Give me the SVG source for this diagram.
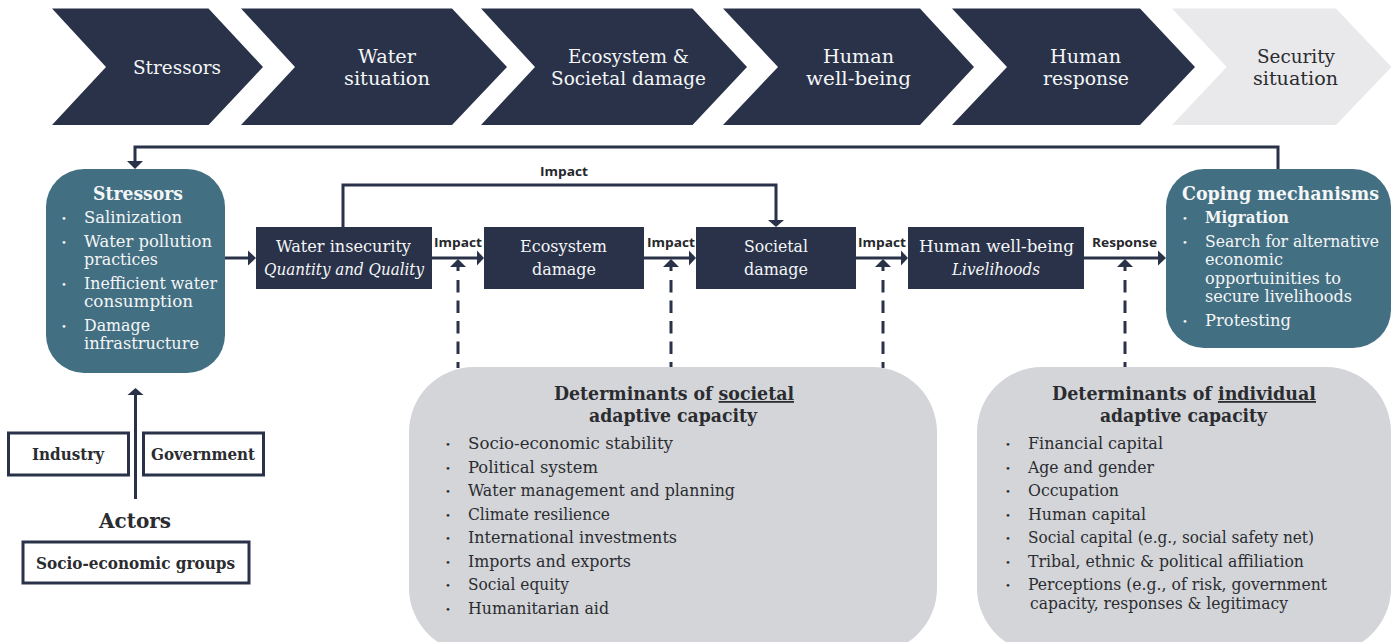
<svg xmlns="http://www.w3.org/2000/svg" width="1397" height="642" viewBox="0 0 1397 642">
<style>
text{font-family:"DejaVu Serif","Liberation Serif",serif;font-size:15.8px;fill:#2b2c30}
.w{fill:#f4f6f7}
.c{font-size:18.800px}
.b{font-weight:bold}
.t{font-size:18px;font-weight:bold}
.i{font-style:italic}
.l{font-family:"Open Sans","Liberation Sans",sans-serif;font-weight:bold;font-size:13px;fill:#26272c}
.dot{font-size:10px}
.dk{fill:#2a3249}
.teal{fill:#436f82}
.grey{fill:#d3d5d9}
.box{fill:#fff;stroke:#2a3249;stroke-width:3}
.ln{fill:none;stroke:#2a3249;stroke-width:3}
.da{fill:none;stroke:#2a3249;stroke-width:3;stroke-dasharray:12.5 8}
.h{fill:#2a3249;stroke:none}
</style>
<rect width="1397" height="642" fill="#fff"/>
<g id="connectors">
<path class="ln" d="M1278 169V147H135V162"/><polygon class="h" points="127,161 143,161 135,169"/>
<path class="ln" d="M343 227V185H776V221"/><polygon class="h" points="768,220 784,220 776,227"/>
<path class="ln" d="M225 258H250"/><polygon class="h" points="248,250.500 256,258 248,265.500"/>
<path class="ln" d="M432 258H478"/><polygon class="h" points="477,250.500 484,258 477,265.500"/>
<path class="ln" d="M644 258H690"/><polygon class="h" points="689,250.500 696,258 689,265.500"/>
<path class="ln" d="M856 258H902"/><polygon class="h" points="901,250.500 908,258 901,265.500"/>
<path class="ln" d="M1084 258H1160"/><polygon class="h" points="1158,250.500 1166,258 1158,265.500"/>
<path class="ln" d="M135.500 499V394"/><polygon class="h" points="127.500,395 143.500,395 135.500,388"/>
<g id="dashed">
<path class="ln" d="M458 266V271M671 266V271M883 266V271M1125 266V271"/>
<polygon class="h" points="450,267 466,267 458,259"/><polygon class="h" points="663,267 679,267 671,259"/><polygon class="h" points="875,267 891,267 883,259"/><polygon class="h" points="1117,267 1133,267 1125,259"/>
<path class="da" d="M458 280V368"/><path class="da" d="M671 280V368"/><path class="da" d="M883 280V368"/><path class="da" d="M1125 280V368"/>
</g>
<text class="l" x="540" y="176" textLength="48" lengthAdjust="spacingAndGlyphs">Impact</text>
<text class="l" x="434" y="247" textLength="48" lengthAdjust="spacingAndGlyphs">Impact</text>
<text class="l" x="647" y="247" textLength="48" lengthAdjust="spacingAndGlyphs">Impact</text>
<text class="l" x="858" y="247" textLength="48" lengthAdjust="spacingAndGlyphs">Impact</text>
<text class="l" x="1092" y="247" textLength="65" lengthAdjust="spacingAndGlyphs">Response</text>
</g>
<g id="chev-stressors"><polygon class="dk" points="52,8.500 208.500,8.500 263,67 208.500,125 52,125 106,67"/>
<text class="c w" x="133" y="74" textLength="88" lengthAdjust="spacingAndGlyphs">Stressors</text></g>
<g id="chev-water"><polygon class="dk" points="241,8.500 452,8.500 507,67 452,125 241,125 295,67"/>
<text class="c w" x="358" y="63" textLength="58" lengthAdjust="spacingAndGlyphs">Water</text>
<text class="c w" x="344" y="85" textLength="86" lengthAdjust="spacingAndGlyphs">situation</text></g>
<g id="chev-damage"><polygon class="dk" points="481,8.500 692.500,8.500 747,67 692.500,125 481,125 535,67"/>
<text class="c w" x="568" y="63" textLength="121" lengthAdjust="spacingAndGlyphs">Ecosystem &amp;</text>
<text class="c w" x="551" y="85" textLength="155" lengthAdjust="spacingAndGlyphs">Societal damage</text></g>
<g id="chev-wellbeing"><polygon class="dk" points="723,8.500 920,8.500 974,67 920,125 723,125 778,67"/>
<text class="c w" x="823" y="63" textLength="71" lengthAdjust="spacingAndGlyphs">Human</text>
<text class="c w" x="806" y="85" textLength="105" lengthAdjust="spacingAndGlyphs">well-being</text></g>
<g id="chev-response"><polygon class="dk" points="952,8.500 1140,8.500 1195,67 1140,125 952,125 1007,67"/>
<text class="c w" x="1050" y="63" textLength="71" lengthAdjust="spacingAndGlyphs">Human</text>
<text class="c w" x="1043" y="85" textLength="86" lengthAdjust="spacingAndGlyphs">response</text></g>
<g id="chev-security"><polygon fill="#e9e9eb" points="1172,8.500 1336,8.500 1391.500,67 1336,125 1172,125 1226.700,67"/>
<text class="c" x="1257" y="63" textLength="78" lengthAdjust="spacingAndGlyphs">Security</text>
<text class="c" x="1253" y="85" textLength="85" lengthAdjust="spacingAndGlyphs">situation</text></g>
<g id="stressors"><rect class="teal" x="46" y="169" width="179" height="204" rx="38"/>
<text class="t w" x="93" y="200" textLength="90" lengthAdjust="spacingAndGlyphs">Stressors</text>
<text class="dot w" x="61" y="222">•</text><text class="w" x="84" y="223" textLength="98" lengthAdjust="spacingAndGlyphs">Salinization</text>
<text class="dot w" x="61" y="246">•</text><text class="w" x="84" y="247" textLength="128" lengthAdjust="spacingAndGlyphs">Water pollution</text>
<text class="w" x="84" y="265" textLength="74" lengthAdjust="spacingAndGlyphs">practices</text>
<text class="dot w" x="61" y="288">•</text><text class="w" x="84" y="289" textLength="133" lengthAdjust="spacingAndGlyphs">Inefficient water</text>
<text class="w" x="84" y="307" textLength="109" lengthAdjust="spacingAndGlyphs">consumption</text>
<text class="dot w" x="61" y="330">•</text><text class="w" x="84" y="331" textLength="66" lengthAdjust="spacingAndGlyphs">Damage</text>
<text class="w" x="84" y="349" textLength="115" lengthAdjust="spacingAndGlyphs">infrastructure</text></g>
<g id="water-insecurity"><rect class="dk" x="256" y="227" width="176" height="62"/>
<text class="w" x="276" y="252" textLength="135" lengthAdjust="spacingAndGlyphs">Water insecurity</text>
<text class="w i" x="264" y="275" textLength="160" lengthAdjust="spacingAndGlyphs">Quantity and Quality</text></g>
<g id="ecosystem-damage"><rect class="dk" x="484" y="227" width="160" height="62"/>
<text class="w" x="520" y="252" textLength="87" lengthAdjust="spacingAndGlyphs">Ecosystem</text>
<text class="w" x="532" y="275" textLength="64" lengthAdjust="spacingAndGlyphs">damage</text></g>
<g id="societal-damage"><rect class="dk" x="696" y="227" width="160" height="62"/>
<text class="w" x="744" y="252" textLength="64" lengthAdjust="spacingAndGlyphs">Societal</text>
<text class="w" x="744" y="275" textLength="64" lengthAdjust="spacingAndGlyphs">damage</text></g>
<g id="human-wellbeing"><rect class="dk" x="908" y="227" width="176" height="62"/>
<text class="w" x="919" y="252" textLength="155" lengthAdjust="spacingAndGlyphs">Human well-being</text>
<text class="w i" x="952" y="275" textLength="88" lengthAdjust="spacingAndGlyphs">Livelihoods</text></g>
<g id="coping"><rect class="teal" x="1166" y="169" width="225" height="179" rx="38"/>
<text class="t w" x="1182" y="200" textLength="197" lengthAdjust="spacingAndGlyphs">Coping mechanisms</text>
<text class="dot w" x="1182" y="222">•</text><text class="b w" x="1205" y="223" textLength="84" lengthAdjust="spacingAndGlyphs">Migration</text>
<text class="dot w" x="1182" y="246">•</text><text class="w" x="1205" y="247" textLength="174" lengthAdjust="spacingAndGlyphs">Search for alternative</text>
<text class="w" x="1205" y="265" textLength="78" lengthAdjust="spacingAndGlyphs">economic</text>
<text class="w" x="1205" y="284" textLength="136" lengthAdjust="spacingAndGlyphs">opportuinities to</text>
<text class="w" x="1205" y="302" textLength="147" lengthAdjust="spacingAndGlyphs">secure livelihoods</text>
<text class="dot w" x="1182" y="325">•</text><text class="w" x="1205" y="326" textLength="86" lengthAdjust="spacingAndGlyphs">Protesting</text></g>
<g id="societal-capacity"><path class="grey" d="M474 367H872A65 65 0 0 1 937 432V588A65 65 0 0 1 872 653H474A65 65 0 0 1 409 588V432A65 65 0 0 1 474 367Z"/>
<text class="t" x="554" y="400" textLength="240" lengthAdjust="spacingAndGlyphs">Determinants of <tspan text-decoration="underline">societal</tspan></text>
<text class="t" x="589" y="422" textLength="168" lengthAdjust="spacingAndGlyphs">adaptive capacity</text>
<text class="dot" x="445" y="448">•</text><text x="468" y="449" textLength="205" lengthAdjust="spacingAndGlyphs">Socio-economic stability</text>
<text class="dot" x="445" y="472">•</text><text x="468" y="473" textLength="130" lengthAdjust="spacingAndGlyphs">Political system</text>
<text class="dot" x="445" y="495">•</text><text x="468" y="496" textLength="267" lengthAdjust="spacingAndGlyphs">Water management and planning</text>
<text class="dot" x="445" y="519">•</text><text x="468" y="520" textLength="142" lengthAdjust="spacingAndGlyphs">Climate resilience</text>
<text class="dot" x="445" y="542">•</text><text x="468" y="543" textLength="209" lengthAdjust="spacingAndGlyphs">International investments</text>
<text class="dot" x="445" y="566">•</text><text x="468" y="567" textLength="163" lengthAdjust="spacingAndGlyphs">Imports and exports</text>
<text class="dot" x="445" y="589">•</text><text x="468" y="590" textLength="101" lengthAdjust="spacingAndGlyphs">Social equity</text>
<text class="dot" x="445" y="613">•</text><text x="468" y="614" textLength="141" lengthAdjust="spacingAndGlyphs">Humanitarian aid</text></g>
<g id="individual-capacity"><path class="grey" d="M1042 367H1326A65 65 0 0 1 1391 432V588A65 65 0 0 1 1326 653H1042A65 65 0 0 1 977 588V432A65 65 0 0 1 1042 367Z"/>
<text class="t" x="1052" y="400" textLength="264" lengthAdjust="spacingAndGlyphs">Determinants of <tspan text-decoration="underline">individual</tspan></text>
<text class="t" x="1100" y="422" textLength="167" lengthAdjust="spacingAndGlyphs">adaptive capacity</text>
<text class="dot" x="1005" y="448">•</text><text x="1028" y="449" textLength="135" lengthAdjust="spacingAndGlyphs">Financial capital</text>
<text class="dot" x="1005" y="472">•</text><text x="1028" y="473" textLength="126" lengthAdjust="spacingAndGlyphs">Age and gender</text>
<text class="dot" x="1005" y="495">•</text><text x="1028" y="496" textLength="91" lengthAdjust="spacingAndGlyphs">Occupation</text>
<text class="dot" x="1005" y="519">•</text><text x="1028" y="520" textLength="118" lengthAdjust="spacingAndGlyphs">Human capital</text>
<text class="dot" x="1005" y="542">•</text><text x="1028" y="543" textLength="286" lengthAdjust="spacingAndGlyphs">Social capital (e.g., social safety net)</text>
<text class="dot" x="1005" y="566">•</text><text x="1028" y="567" textLength="276" lengthAdjust="spacingAndGlyphs">Tribal, ethnic &amp; political affiliation</text>
<text class="dot" x="1005" y="589">•</text><text x="1028" y="590" textLength="299" lengthAdjust="spacingAndGlyphs">Perceptions (e.g., of risk, government</text>
<text x="1030" y="609" textLength="258" lengthAdjust="spacingAndGlyphs">capacity, responses &amp; legitimacy</text></g>
<g id="industry"><rect class="box" x="8.500" y="433" width="120" height="42"/>
<text class="b" x="32" y="460" textLength="72" lengthAdjust="spacingAndGlyphs">Industry</text></g>
<g id="government"><rect class="box" x="143.500" y="433" width="120" height="42"/>
<text class="b" x="151" y="460" textLength="104" lengthAdjust="spacingAndGlyphs">Government</text></g>
<g id="actors"><text class="b" style="font-size:21px" x="99" y="528" textLength="72" lengthAdjust="spacingAndGlyphs">Actors</text></g>
<g id="socio-economic"><rect class="box" x="23" y="542" width="226" height="41"/>
<text class="b" x="36" y="569" textLength="199" lengthAdjust="spacingAndGlyphs">Socio-economic groups</text></g>
</svg>
